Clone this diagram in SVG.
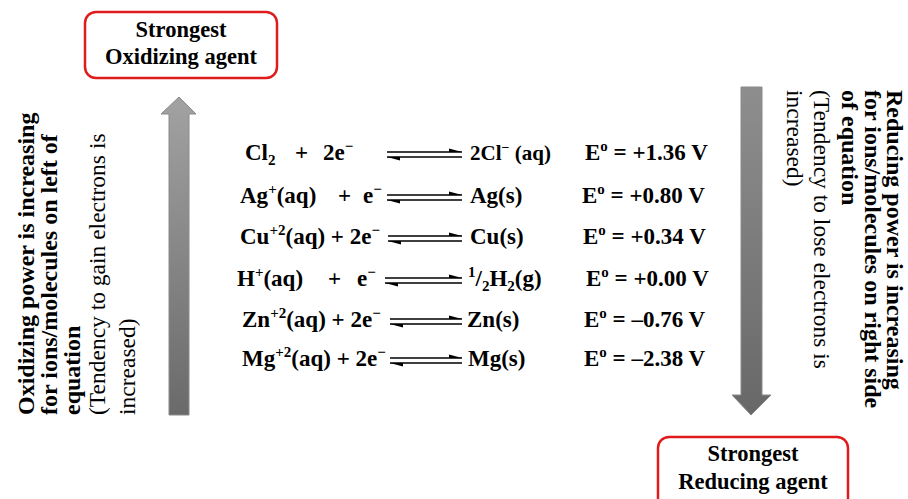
<svg xmlns="http://www.w3.org/2000/svg" width="908" height="499" viewBox="0 0 908 499">
<defs>
  <linearGradient id="gl" x1="0" y1="0" x2="0" y2="1">
    <stop offset="0" stop-color="#a2a2a2"/>
    <stop offset="1" stop-color="#6a6a6a"/>
  </linearGradient>
  <linearGradient id="gr" x1="0" y1="0" x2="0" y2="1">
    <stop offset="0" stop-color="#8e8e8e"/>
    <stop offset="1" stop-color="#686868"/>
  </linearGradient>
</defs>
<style>
  text { font-family: "Liberation Serif", "Times New Roman", serif; fill: #000; }
  .b { font-weight: bold; font-size: 23px; }
  .bs { font-weight: bold; font-size: 21px; }
  .bx { font-weight: bold; font-size: 22.5px; }
  .sb { font-weight: bold; font-size: 24px; }
  .r { font-size: 23.5px; }
  .box { fill: #fff; stroke: #e01b1b; stroke-width: 2.5; }
  .eqline { stroke: #000; stroke-width: 1.6; fill: none; }
  .barb { fill: #000; }
  .big { stroke: #8a8a8a; stroke-width: 1; }
  .sup { font-size: 15px; }
</style>

<g id="box-oxidizing">
  <rect class="box" x="85" y="12" width="192" height="66" rx="11"/>
  <text class="bx" x="181" y="37" text-anchor="middle">Strongest</text>
  <text class="bx" x="181" y="64" text-anchor="middle">Oxidizing agent</text>
</g>

<g id="box-reducing">
  <rect class="box" x="658" y="437" width="190" height="72" rx="11"/>
  <text class="bx" x="753" y="461" text-anchor="middle">Strongest</text>
  <text class="bx" x="753" y="489" text-anchor="middle">Reducing agent</text>
</g>

<g id="arrow-up">
  <polygon class="big" fill="url(#gl)" points="179,97 196,114 189,114 189,415 169,415 169,114 161,114"/>
</g>

<g id="arrow-down">
  <polygon class="big" fill="url(#gr)" points="741,87 762,87 762,395 771,395 751,415 732,395 741,395"/>
</g>

<g id="label-left">
  <text class="sb" transform="translate(34,415) rotate(-90)">Oxidizing power is increasing</text>
  <text class="sb" transform="translate(57,415) rotate(-90)">for ions/molecules on left of</text>
  <text class="sb" transform="translate(80,415) rotate(-90)">equation</text>
  <text class="r" transform="translate(105,415) rotate(-90)">(Tendency to gain electrons is</text>
  <text class="r" transform="translate(135,415) rotate(-90)">increased)</text>
</g>

<g id="label-right">
  <text class="sb" transform="translate(887,90) rotate(90)">Reducing power is increasing</text>
  <text class="sb" transform="translate(865,90) rotate(90)">for ions/molecules on right side</text>
  <text class="sb" transform="translate(842,90) rotate(90)">of equation</text>
  <text class="r" transform="translate(814,90) rotate(90)">(Tendency to lose electrons is</text>
  <text class="r" transform="translate(787,90) rotate(90)">increased)</text>
</g>

<g id="row-cl">
  <text class="b" x="245" y="160">Cl<tspan class="sup" dy="5">2</tspan></text>
  <text class="b" x="295" y="160">+</text>
  <text class="b" x="323" y="160">2e<tspan class="sup" dy="-9">−</tspan></text>
  <text class="bs" x="470" y="160">2Cl<tspan font-size="14" dy="-8">−</tspan><tspan dy="8"> (aq)</tspan></text>
  <text class="b" x="585" y="160">E<tspan class="sup" dy="-9">o</tspan><tspan dy="9"> = +1.36 V</tspan></text>
</g>

<g id="row-ag">
  <text class="b" x="240" y="203">Ag<tspan class="sup" dy="-9">+</tspan><tspan dy="9">(aq)</tspan></text>
  <text class="b" x="338" y="203">+</text>
  <text class="b" x="363" y="203">e<tspan class="sup" dy="-9">−</tspan></text>
  <text class="b" x="470" y="203">Ag(s)</text>
  <text class="b" x="582" y="203">E<tspan class="sup" dy="-9">o</tspan><tspan dy="9"> = +0.80 V</tspan></text>
</g>

<g id="row-cu">
  <text class="b" x="240" y="244">Cu<tspan class="sup" dy="-9">+2</tspan><tspan dy="9">(aq) + 2e</tspan><tspan class="sup" dy="-9">−</tspan></text>
  <text class="b" x="470" y="244">Cu(s)</text>
  <text class="b" x="583" y="244">E<tspan class="sup" dy="-9">o</tspan><tspan dy="9"> = +0.34 V</tspan></text>
</g>

<g id="row-h">
  <text class="b" x="237" y="286">H<tspan class="sup" dy="-9">+</tspan><tspan dy="9">(aq)</tspan></text>
  <text class="b" x="328" y="286">+</text>
  <text class="b" x="357" y="286">e<tspan class="sup" dy="-9">−</tspan></text>
  <text class="b" x="468" y="286"><tspan class="sup" dy="-9">1</tspan><tspan dy="9">/</tspan><tspan class="sup" dy="5">2</tspan><tspan dy="-5">H</tspan><tspan class="sup" dy="5">2</tspan><tspan dy="-5">(g)</tspan></text>
  <text class="b" x="586" y="286">E<tspan class="sup" dy="-9">o</tspan><tspan dy="9"> = +0.00 V</tspan></text>
</g>

<g id="row-zn">
  <text class="b" x="242" y="327">Zn<tspan class="sup" dy="-9">+2</tspan><tspan dy="9">(aq) + 2e</tspan><tspan class="sup" dy="-9">−</tspan></text>
  <text class="b" x="467" y="327">Zn(s)</text>
  <text class="b" x="584" y="327">E<tspan class="sup" dy="-9">o</tspan><tspan dy="9"> = –0.76 V</tspan></text>
</g>

<g id="row-mg">
  <text class="b" x="242" y="366">Mg<tspan class="sup" dy="-9">+2</tspan><tspan dy="9">(aq) + 2e</tspan><tspan class="sup" dy="-9">−</tspan></text>
  <text class="b" x="468" y="366">Mg(s)</text>
  <text class="b" x="584" y="366">E<tspan class="sup" dy="-9">o</tspan><tspan dy="9"> = –2.38 V</tspan></text>
</g>

<g id="connectors">
  <g transform="translate(0,160)">
    <path class="eqline" d="M387,-8 H462 M387,-3 H462"/>
    <path class="barb" d="M462,-8 L449,-11.5 L449,-8 Z M387,-3 L400,0.5 L400,-3 Z"/>
  </g>
  <g transform="translate(0,203)">
    <path class="eqline" d="M387,-8 H462 M387,-3 H462"/>
    <path class="barb" d="M462,-8 L449,-11.5 L449,-8 Z M387,-3 L400,0.5 L400,-3 Z"/>
  </g>
  <g transform="translate(0,244)">
    <path class="eqline" d="M388,-8 H462 M388,-3 H462"/>
    <path class="barb" d="M462,-8 L449,-11.5 L449,-8 Z M388,-3 L401,0.5 L401,-3 Z"/>
  </g>
  <g transform="translate(0,286)">
    <path class="eqline" d="M385,-8 H462 M385,-3 H462"/>
    <path class="barb" d="M462,-8 L449,-11.5 L449,-8 Z M385,-3 L398,0.5 L398,-3 Z"/>
  </g>
  <g transform="translate(0,327)">
    <path class="eqline" d="M390,-8 H462 M390,-3 H462"/>
    <path class="barb" d="M462,-8 L449,-11.5 L449,-8 Z M390,-3 L403,0.5 L403,-3 Z"/>
  </g>
  <g transform="translate(0,366)">
    <path class="eqline" d="M390,-8 H462 M390,-3 H462"/>
    <path class="barb" d="M462,-8 L449,-11.5 L449,-8 Z M390,-3 L403,0.5 L403,-3 Z"/>
  </g>
</g>
</svg>
